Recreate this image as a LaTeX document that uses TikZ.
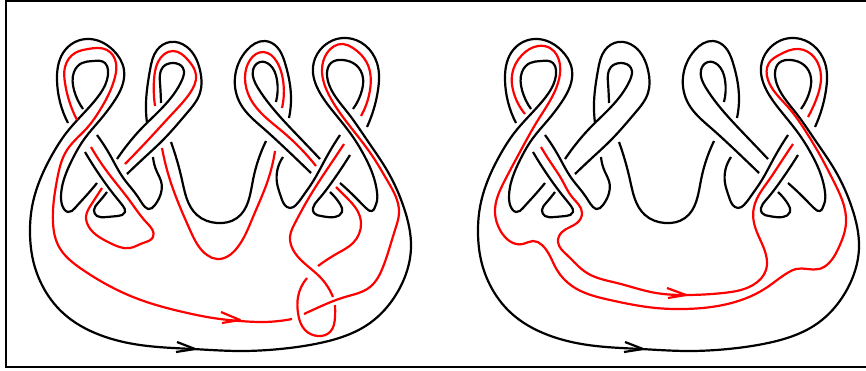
\documentclass[tikz,border=0pt]{standalone}
\usetikzlibrary{hobby}
\tikzset{
  knot/.style={line width=2.2pt,black,line join=round},
  redk/.style={line width=2.2pt,red,line join=round},
  frameline/.style={line width=2.4pt,black},
}
\newcommand{\sm}[2]{\draw[#1] plot[hobby] coordinates {#2};}
\newcommand{\blackknot}{%
 \sm{knot}{(83,109)(74,90)(74,72)(82,63)(93,61)(105,63)(108,70)(107,80)(97,98)(82,115)(67,132)(52,155)(38,185)(32,207)(30,233)(33,260)(42,285)(63,313)(100,335)(140,345)(193,349)(240,351)(280,349)(320,343)(370,323)(397,293)(411,247)(404,208)(388,172)(367,140)(348,113)(330,87)(327,73)(331,63)(343,60)(356,65)(363,78)(362,90)(353,109)}
 \sm{knot}{(68,123)(60,102)(57,80)(63,53)(75,42)(90,39)(113,50)(124,70)(113,103)(100,120)(85,138)(72,160)(62,187)(61,198)(64,209)(68,212)(75,208)(85,197)(97,183)}
 \sm{knot}{(97,135)(110,155)(124,179)(138,197)(145,207)(148,209)(155,205)(161,193)(161,181)(157,172)(153,157)}
 \sm{knot}{(85,152)(103,180)(115,196)(123,206)(125,212)(118,216)(107,217)(97,216)(94,210)(98,203)(107,192)}
 \sm{knot}{(147,123)(146,103)(150,70)(157,50)(170,42)(187,47)(200,70)(200,93)(187,113)(163,140)(145,157)(127,174)}
 \sm{knot}{(161,103)(160,83)(163,67)(173,63)(183,68)(182,80)(163,107)(140,130)(128,144)(117,159)}
 \sm{knot}{(171,142)(182,180)(197,215)(217,223)(237,218)(253,180)(266,141)}
 \sm{knot}{(283,157)(277,183)(281,197)(287,207)(290,208)(296,205)(303,196)(312,183)(326,158)(340,135)}
 \sm{knot}{(350,155)(332,182)(318,200)(313,208)(314,213)(321,216)(335,217)(342,212)(340,204)(330,192)}
 \sm{knot}{(289,118)(291,97)(285,63)(277,47)(265,41)(247,50)(235,77)(240,103)(263,128)(287,150)(311,173)}
 \sm{knot}{(276,102)(277,80)(270,65)(260,62)(253,70)(258,88)(283,120)(300,138)(320,159)}
 \sm{knot}{(367,127)(378,90)(377,63)(347,38)(320,50)(313,67)(320,93)(336,115)(353,137)(365,157)(373,175)(377,192)(377,201)(375,207)(372,211)(367,209)(358,200)(340,183)}
 \draw[knot] (177,342) -- (195,349) -- (176,352);
}
\begin{document}
\begin{tikzpicture}[x=1pt,y=-1pt]
\useasboundingbox (0,0) rectangle (866,370);
\draw[frameline] (866,1) -- (6,1) -- (6,367) -- (866,367);
\blackknot
\begin{scope}[xshift=448pt]
\blackknot
\end{scope}
% left panel red
\sm{redk}{(77,120)(65,83)(65,67)(75,53)(88,49)(107,50)(116,63)(115,77)(100,110)(87,128)(67,150)(57,180)(53,223)(58,245)(83,270)(133,297)(183,312)(220,319)(240,321)(263,322)(292,319)}
\draw[redk] (221,312) -- (240,320) -- (222,323);
\sm{redk}{(91,147)(101,163)(112,178)(130,201)(147,223)(153,237)(143,243)(130,248)(110,243)(87,223)(86,217)(91,205)(102,188)}
\sm{redk}{(155,106)(154,80)(158,62)(173,51)(188,60)(196,75)(190,93)(173,113)(149,139)(125,164)}
\sm{redk}{(162,148)(170,180)(190,230)(207,255)(217,259)(237,248)(253,217)(268,180)(275,151)}
\sm{redk}{(282,108)(283,80)(277,62)(263,52)(250,60)(245,78)(250,98)(283,132)(316,166)}
\sm{redk}{(361,116)(370,90)(367,63)(353,48)(343,44)(327,53)(322,70)(330,97)(363,143)(375,160)(387,180)(399,213)(395,230)(383,267)(370,287)(345,297)(317,308)(304,314)}
\sm{redk}{(344,144)(332,162)(320,180)(307,201)(295,223)(290,237)(295,253)(320,277)(333,297)}
\sm{redk}{(307,278)(298,297)(298,313)(305,330)(318,336)(330,332)(335,317)(335,305)}
\sm{redk}{(318,266)(338,253)(353,243)(361,223)(357,210)(347,198)(336,187)}
% right panel red
\sm{redk}{(525,114)(513,90)(512,75)(522,55)(538,46)(550,48)(560,65)(558,83)(538,120)(521,150)(505,180)(495,213)(500,230)(523,244)(533,241)(542,245)(557,270)(572,286)(610,300)(656,308)(683,309)(723,305)(766,288)(789,272)(796,269)(819,269)(829,263)(839,247)(846,223)(833,180)(821,157)(808,135)(788,107)(768,80)(769,63)(779,55)(799,49)(814,57)(821,77)(816,100)(808,117)}
\sm{redk}{(541,147)(551,163)(562,180)(572,197)(582,213)(577,223)(562,232)(558,242)(567,255)(587,273)(617,283)(656,293)(686,295)(723,293)(753,285)(766,270)(766,255)(754,223)(754,207)(769,180)(781,162)(793,144)}
\draw[redk] (667,288) -- (686,295) -- (668,298);
\end{tikzpicture}
\end{document}
